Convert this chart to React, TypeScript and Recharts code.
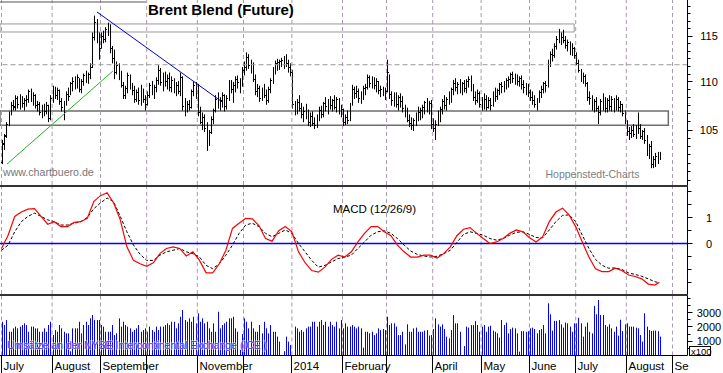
import React from "react";
import {
  ComposedChart,
  Bar,
  Line,
  Scatter,
  XAxis,
  YAxis,
  ReferenceLine,
  ReferenceArea,
} from "recharts";

// weekday slots, 0 = 1 July 2013
const monthStarts = [0, 23, 45, 66, 89, 110, 132, 155, 175, 196, 218, 240, 261, 284, 305];
const monthLabels = ["July", "August", "September", "", "November", "", "2014", "February", "", "April", "May", "June", "July", "August", "Se"];

const opens = [
  // Jul 2013
  101.8, 103.5, 104.4, 105.6, 106.7, 107.5, 107.3, 108.3, 107.6, 108.4, 107.7, 108.0, 108.2, 109.0, 108.2, 108.6, 107.5, 107.6, 106.8, 107.3, 106.9, 107.5, 106.2,
  // Aug
  108.3, 109.2, 108.6, 109.1, 107.9, 107.3, 107.8, 108.7, 108.5, 109.8, 110.1, 109.6, 110.5, 109.2, 110.0, 110.7, 110.4, 110.8, 111.6, 114.8, 116.5, 115.0,
  // Sep
  113.6, 115.0, 114.6, 115.7, 115.6, 113.6, 112.5, 111.0, 111.8, 110.5, 109.6, 108.6, 109.3, 110.7, 109.4, 109.1, 108.2, 108.9, 108.0, 109.4, 108.2,
  // Oct
  107.6, 108.6, 109.6, 108.9, 109.4, 110.2, 111.2, 109.9, 110.6, 110.0, 110.4, 109.4, 110.2, 109.0, 109.6, 109.0, 110.5, 107.4, 106.8, 107.6, 107.3, 109.0, 109.6,
  // Nov
  108.8, 106.8, 105.8, 106.3, 105.2, 103.6, 104.7, 106.1, 107.0, 108.2, 107.6, 108.0, 108.6, 107.4, 108.3, 109.9, 109.2, 109.6, 110.3, 109.9, 110.0,
  // Dec
  111.2, 111.6, 112.6, 111.8, 112.0, 110.3, 109.0, 109.3, 108.3, 108.9, 108.6, 108.0, 109.2, 110.2, 111.4, 112.0, 112.1, 112.2, 112.3, 112.5, 112.0, 111.6,
  // Jan 2014
  111.0, 107.6, 106.9, 107.8, 107.2, 106.6, 106.9, 106.4, 105.8, 106.4, 105.7, 105.5, 106.3, 107.0, 106.6, 107.7, 107.4, 107.9, 107.5, 108.0, 107.3, 108.1, 106.9,
  // Feb
  107.1, 105.8, 106.3, 106.0, 107.6, 109.2, 108.8, 109.0, 108.3, 108.6, 109.3, 109.4, 110.5, 109.8, 110.4, 109.6, 110.0, 109.1, 109.2, 108.8,
  // Mar
  109.0, 111.0, 108.7, 108.0, 108.6, 107.6, 108.4, 107.9, 107.2, 106.6, 106.0, 105.7, 105.5, 106.0, 106.5, 106.8, 107.0, 107.3, 107.8, 107.2, 107.7,
  // Apr
  105.6, 105.2, 105.6, 106.4, 107.1, 107.9, 107.5, 108.2, 107.9, 109.2, 109.8, 109.4, 109.7, 109.2, 109.8, 109.3, 110.0, 110.3, 109.3, 108.4, 108.0, 108.8,
  // May
  107.6, 107.6, 108.2, 107.3, 108.0, 107.5, 108.7, 108.5, 109.1, 109.7, 109.5, 109.9, 110.2, 110.3, 110.8, 110.4, 110.6, 110.1, 110.4, 109.7, 109.4, 109.6,
  // Jun
  108.9, 108.4, 108.0, 107.6, 108.1, 108.9, 109.2, 109.8, 109.6, 112.0, 113.0, 112.8, 113.8, 114.6, 115.1, 114.8, 114.5, 113.9, 114.3, 113.4, 113.6,
  // Jul
  112.9, 112.0, 111.2, 110.4, 110.6, 109.8, 108.4, 108.3, 107.3, 107.9, 107.2, 106.8, 107.9, 108.4, 107.2, 108.0, 107.4, 108.2, 107.5, 108.1, 107.3, 107.6, 106.7,
  // Aug
  106.0, 104.8, 104.6, 105.0, 104.5, 105.2, 105.2, 104.3, 104.8, 103.9, 102.8, 103.3, 101.6, 102.0, 102.3, 102.5,
];

const highs = [
  104.0, 104.6, 105.8, 106.9, 107.9, 108.1, 108.6, 108.5, 108.7, 108.5, 108.3, 108.6, 109.2, 109.3, 108.9, 108.7, 108.0, 107.9, 107.6, 107.7, 107.9, 107.6, 108.6,
  109.6, 109.5, 109.4, 109.2, 108.3, 108.0, 109.0, 109.4, 110.0, 110.5, 110.6, 110.8, 110.4, 110.3, 110.9, 111.2, 111.0, 112.0, 115.4, 117.3, 116.9, 115.4,
  115.4, 115.6, 116.0, 116.5, 116.3, 113.9, 113.5, 112.2, 112.0, 111.2, 110.0, 109.6, 111.0, 110.8, 109.9, 109.6, 109.2, 109.4, 109.7, 109.3, 108.6,
  109.0, 109.9, 110.1, 109.7, 110.5, 111.8, 111.5, 111.0, 111.1, 110.8, 111.0, 110.6, 110.4, 110.0, 110.1, 111.0, 110.6, 108.3, 108.0, 108.1, 109.2, 110.1, 110.0,
  109.8, 107.4, 106.8, 106.6, 105.8, 105.0, 106.4, 107.2, 108.6, 108.9, 108.4, 108.9, 108.7, 108.6, 110.2, 110.2, 110.0, 110.6, 110.7, 110.4, 111.6,
  112.2, 113.2, 113.0, 112.4, 112.1, 110.8, 109.8, 109.6, 109.4, 109.8, 109.2, 109.5, 110.4, 111.6, 112.3, 112.5, 112.4, 112.6, 112.8, 113.0, 112.4, 112.0,
  111.3, 108.0, 108.2, 108.6, 107.8, 107.4, 107.7, 107.1, 106.8, 106.9, 106.3, 106.6, 107.4, 107.5, 107.9, 108.4, 108.2, 108.5, 108.2, 108.6, 108.4, 108.3, 107.6,
  107.2, 106.6, 107.0, 107.8, 109.7, 109.5, 109.6, 109.3, 109.0, 109.6, 109.8, 110.8, 110.7, 110.6, 110.5, 110.4, 110.1, 109.6, 109.5, 109.4,
  112.4, 110.8, 109.0, 108.9, 108.9, 108.6, 108.8, 108.5, 107.6, 107.3, 106.6, 106.3, 106.2, 106.8, 107.4, 107.3, 107.6, 108.0, 108.3, 108.0, 108.1,
  106.2, 106.0, 107.0, 107.4, 108.2, 108.6, 108.4, 109.0, 109.4, 110.2, 110.4, 110.0, 110.3, 110.0, 110.2, 110.3, 110.6, 110.7, 109.8, 109.0, 109.2, 109.0,
  108.4, 108.8, 108.6, 108.4, 108.3, 109.0, 109.4, 109.3, 109.9, 110.0, 110.1, 110.4, 110.6, 111.0, 111.1, 110.9, 110.8, 110.6, 110.7, 110.2, 109.9, 109.8,
  109.2, 109.0, 108.6, 108.3, 109.1, 109.6, 110.0, 110.1, 112.4, 113.3, 113.6, 114.2, 115.0, 115.8, 115.4, 115.7, 115.0, 114.6, 114.4, 114.2, 113.8,
  113.2, 112.4, 111.4, 111.0, 110.8, 110.0, 109.0, 108.6, 108.2, 108.4, 107.5, 108.2, 108.8, 108.4, 108.3, 108.6, 108.5, 108.3, 108.6, 108.4, 108.0, 107.7, 107.0,
  106.0, 105.3, 105.4, 105.6, 105.5, 106.8, 105.6, 105.0, 105.2, 104.5, 103.6, 103.9, 102.4, 102.7, 102.8, 102.8,
];

const lows = [
  101.6, 103.0, 104.2, 105.4, 106.5, 107.0, 107.0, 107.2, 107.1, 107.3, 107.0, 107.4, 107.8, 107.9, 107.5, 107.2, 106.9, 106.5, 106.2, 106.4, 106.6, 105.8, 106.0,
  107.8, 108.2, 108.1, 107.6, 106.9, 106.0, 107.5, 108.0, 108.6, 109.0, 109.2, 109.3, 108.9, 108.8, 109.6, 109.9, 109.8, 110.3, 111.5, 114.5, 114.2, 112.4,
  113.6, 114.2, 114.3, 115.0, 113.1, 112.0, 110.3, 110.8, 110.2, 109.4, 108.2, 108.2, 108.8, 109.2, 108.6, 107.8, 107.9, 107.6, 107.5, 107.8, 107.0,
  107.5, 108.3, 108.6, 108.2, 108.9, 109.7, 109.6, 109.0, 109.5, 109.2, 109.0, 108.9, 108.8, 108.5, 108.7, 108.5, 107.0, 106.4, 106.8, 107.0, 107.2, 108.5, 108.2,
  106.4, 105.6, 105.0, 104.8, 102.9, 103.4, 104.6, 105.6, 106.8, 107.2, 107.0, 107.3, 106.9, 107.1, 108.0, 108.8, 107.8, 108.9, 109.3, 108.8, 109.5,
  110.7, 111.2, 111.4, 110.9, 110.0, 108.6, 108.4, 107.9, 108.0, 108.3, 107.6, 107.8, 108.8, 109.8, 110.8, 111.2, 111.3, 111.6, 111.4, 111.6, 111.0, 110.6,
  107.2, 106.5, 106.6, 106.9, 106.2, 105.8, 106.1, 105.4, 105.3, 105.4, 105.1, 105.2, 105.9, 106.2, 106.3, 106.9, 106.6, 107.1, 106.9, 107.1, 106.8, 106.6, 106.3,
  105.4, 105.5, 105.6, 105.9, 107.5, 108.2, 108.3, 107.8, 107.7, 108.1, 108.6, 109.2, 109.4, 109.3, 109.2, 108.9, 108.7, 108.4, 108.5, 108.1,
  108.9, 108.2, 107.5, 107.4, 107.3, 107.0, 107.3, 106.8, 106.3, 105.8, 105.3, 105.0, 104.9, 105.4, 105.9, 106.0, 106.2, 106.6, 106.8, 106.6, 105.1,
  104.8, 104.0, 105.4, 105.8, 106.6, 107.1, 107.0, 107.6, 107.8, 108.6, 109.0, 108.7, 108.8, 108.6, 108.9, 108.8, 109.4, 109.0, 108.0, 107.6, 107.8, 107.3,
  107.0, 107.1, 107.0, 107.2, 107.0, 107.4, 107.9, 108.1, 108.6, 108.8, 108.9, 109.2, 109.4, 109.8, 109.9, 109.7, 109.6, 109.5, 109.2, 108.8, 108.6, 108.4,
  108.0, 107.6, 107.3, 107.0, 107.8, 108.3, 108.8, 108.9, 109.4, 111.6, 112.2, 112.6, 113.5, 114.2, 114.0, 114.2, 113.6, 113.3, 112.9, 112.8, 112.5,
  111.8, 111.0, 110.0, 109.8, 109.5, 108.0, 107.6, 107.0, 106.8, 106.9, 105.6, 106.5, 107.0, 106.8, 106.8, 107.0, 106.9, 106.8, 107.0, 106.9, 106.8, 106.4, 105.6,
  104.4, 104.0, 104.2, 104.3, 104.1, 104.6, 104.1, 104.0, 103.6, 102.4, 102.1, 101.2, 101.2, 101.3, 101.6, 102.0,
];

const closes = [
  103.6, 104.3, 105.6, 106.6, 107.6, 107.4, 108.3, 107.6, 108.4, 107.7, 108.0, 108.2, 109.0, 108.2, 108.6, 107.5, 107.6, 106.8, 107.3, 106.9, 107.5, 106.2, 108.3,
  109.2, 108.6, 109.1, 107.9, 107.3, 107.8, 108.7, 108.5, 109.8, 110.1, 109.6, 110.5, 109.2, 110.0, 110.7, 110.4, 110.8, 111.6, 114.8, 116.5, 115.0, 113.3,
  115.0, 114.6, 115.7, 115.6, 113.6, 112.5, 111.0, 111.8, 110.5, 109.6, 108.6, 109.3, 110.7, 109.4, 109.1, 108.2, 108.9, 108.0, 109.4, 108.2, 107.6,
  108.6, 109.6, 108.9, 109.4, 110.2, 111.2, 109.9, 110.6, 110.0, 110.4, 109.4, 110.2, 109.0, 109.6, 109.0, 110.5, 107.4, 106.8, 107.6, 107.3, 109.0, 109.6, 108.8,
  106.8, 105.8, 106.3, 105.2, 103.6, 104.7, 106.1, 107.0, 108.2, 107.6, 108.0, 108.6, 107.4, 108.3, 109.9, 109.2, 109.6, 110.3, 109.9, 110.0, 111.2,
  111.6, 112.6, 111.8, 112.0, 110.3, 109.0, 109.3, 108.3, 108.9, 108.6, 108.0, 109.2, 110.2, 111.4, 112.0, 112.1, 112.2, 112.3, 112.5, 112.0, 111.6, 111.0,
  107.6, 106.9, 107.8, 107.2, 106.6, 106.9, 106.4, 105.8, 106.4, 105.7, 105.5, 106.3, 107.0, 106.6, 107.7, 107.4, 107.9, 107.5, 108.0, 107.3, 108.1, 106.9, 107.1,
  105.8, 106.3, 106.0, 107.6, 109.2, 108.8, 109.0, 108.3, 108.6, 109.3, 109.4, 110.5, 109.8, 110.4, 109.6, 110.0, 109.1, 109.2, 108.8, 109.0,
  111.0, 108.7, 108.0, 108.6, 107.6, 108.4, 107.9, 107.2, 106.6, 106.0, 105.7, 105.5, 106.0, 106.5, 106.8, 107.0, 107.3, 107.8, 107.2, 107.7, 105.6,
  105.2, 105.6, 106.4, 107.1, 107.9, 107.5, 108.2, 107.9, 109.2, 109.8, 109.4, 109.7, 109.2, 109.8, 109.3, 110.0, 110.3, 109.3, 108.4, 108.0, 108.8, 107.6,
  107.6, 108.2, 107.3, 108.0, 107.5, 108.7, 108.5, 109.1, 109.7, 109.5, 109.9, 110.2, 110.3, 110.8, 110.4, 110.6, 110.1, 110.4, 109.7, 109.4, 109.6, 108.9,
  108.4, 108.0, 107.6, 108.1, 108.9, 109.2, 109.8, 109.6, 112.0, 113.0, 112.8, 113.8, 114.6, 115.1, 114.8, 114.5, 113.9, 114.3, 113.4, 113.6, 112.9,
  112.0, 111.2, 110.4, 110.6, 109.8, 108.4, 108.3, 107.3, 107.9, 107.2, 106.8, 107.9, 108.4, 107.2, 108.0, 107.4, 108.2, 107.5, 108.1, 107.3, 107.6, 106.7, 106.0,
  104.8, 104.6, 105.0, 104.5, 105.2, 105.2, 104.3, 104.8, 103.9, 102.8, 103.3, 101.6, 102.0, 102.3, 102.5, 102.6,
];

// volume, in hundreds of contracts
const volumes = [
  2360, 2130, 2480, 1660, 1660, 1900, 2020, 1900, 2020, 2130, 2250, 2130, 1660, 2020, 2020, 1900, 1900, 1660, 1660, 1900, 1660, 2130, 2360,
  1430, 1780, 1660, 2130, 1900, 1660, 1550, 1550, 300, 1900, 1900, 1900, 2360, 1550, 2130, 2360, 2130, 2600, 2830, 2480, 2480, 2480,
  2130, 2020, 1660, 1660, 1660, 2130, 1430, 1550, 2600, 2020, 2360, 2130, 2020, 1900, 1660, 1780, 1900, 2130, 1660, 1780, 1900,
  1660, 2020, 1780, 1660, 2020, 1780, 2020, 2020, 2130, 2250, 2130, 2360, 2360, 1900, 2250, 2710, 3180, 2480, 2360, 2600, 2360, 2710, 2250,
  2950, 2360, 2600, 2250, 2360, 1900, 1660, 2250, 1660, 3060, 1900, 2130, 2250, 2360, 2600, 2600, 2710, 1900, 1660, 400, 1500,
  2600, 2360, 1900, 2360, 1900, 1660, 1660, 2130, 1550, 2360, 1900, 1550, 2130, 1660, 1660, 1320, 970, 0, 300, 1320, 970, 730,
  0, 2020, 1900, 1660, 1780, 1660, 1900, 2020, 2020, 2360, 2360, 2020, 2360, 2480, 2130, 2360, 2020, 2360, 2130, 2020, 2360, 1900, 2480,
  1900, 2250, 2020, 2020, 2130, 2020, 1900, 2020, 1900, 550, 1660, 1660, 1550, 1660, 1430, 1550, 1900, 1780, 1850, 1780,
  2710, 2130, 2250, 2250, 2020, 1430, 1430, 1660, 780, 2180, 1660, 1660, 1900, 1950, 1660, 1660, 1660, 1740, 1780, 1390, 1430,
  1850, 2600, 2180, 2020, 2180, 1850, 1320, 1200, 1780, 2830, 2250, 2250, 1660, 0, 660, 2020, 1950, 2130, 2130, 2400, 2130, 1660,
  2020, 2130, 1660, 2020, 2080, 1740, 1660, 1550, 1250, 2480, 2130, 2300, 1550, 1850, 1950, 1900, 1550, 270, 1700, 1700, 1660, 1700,
  1900, 1950, 1850, 1550, 1780, 1850, 2130, 1550, 3650, 2880, 1740, 2420, 2420, 2480, 2180, 1950, 2300, 2250, 2020, 1660, 2250,
  2250, 2640, 2250, 1320, 2020, 2300, 1660, 1550, 3470, 2880, 3880, 2830, 2830, 2130, 2020, 2180, 1900, 1660, 2020, 1390, 2500, 1710, 2180,
  2250, 2020, 2020, 2020, 1950, 1900, 1430, 970, 2950, 2020, 1780, 1710, 1740, 1740, 1700, 1320,
];

// MACD (12/26/9), read every third weekday, last point = last bar
const macdValues = [
  -0.19, 0.32, 1.04, 1.21, 1.32, 1.34, 1.04, 0.74, 0.84, 0.65,
  0.65, 0.81, 0.84, 0.97, 1.62, 1.84, 1.95, 1.56, 0.91, -0.13,
  -0.65, -0.78, -0.88, -0.74, -0.39, -0.19, -0.13, -0.19, -0.48, -0.32,
  -0.65, -1.13, -1.13, -0.78, -0.26, 0.58, 0.78, 0.97, 0.95, 0.69,
  0.19, 0.09, 0.49, 0.65, 0.45, -0.32, -0.74, -1.04, -1.10, -0.91,
  -0.61, -0.45, -0.52, -0.32, 0.06, 0.39, 0.65, 0.65, 0.45, 0.3,
  -0.06, -0.32, -0.52, -0.52, -0.45, -0.45, -0.56, -0.39, -0.13, 0.3,
  0.55, 0.61, 0.39, 0.19, 0.0, 0.06, 0.19, 0.39, 0.52, 0.45,
  0.22, 0.06, 0.26, 0.84, 1.21, 1.36, 1.1, 0.65, 0.06, -0.52,
  -0.97, -1.08, -1.08, -0.95, -1.04, -1.21, -1.27, -1.36, -1.56, -1.6,
  -1.49,
];
const signalValues = [
  -0.26, -0.06, 0.45, 0.84, 1.04, 1.17, 1.04, 0.91, 0.84, 0.71,
  0.71, 0.78, 0.84, 1.0, 1.34, 1.56, 1.75, 1.6, 1.04, 0.45,
  -0.06, -0.42, -0.65, -0.65, -0.45, -0.32, -0.26, -0.19, -0.32, -0.39,
  -0.52, -0.84, -0.97, -0.78, -0.45, -0.06, 0.39, 0.71, 0.78, 0.65,
  0.39, 0.26, 0.39, 0.52, 0.39, 0.0, -0.32, -0.65, -0.91, -0.84,
  -0.71, -0.58, -0.52, -0.45, -0.19, 0.06, 0.32, 0.45, 0.49, 0.39,
  0.19, -0.06, -0.29, -0.42, -0.48, -0.52, -0.49, -0.39, -0.26, 0.04,
  0.35, 0.45, 0.39, 0.32, 0.19, 0.13, 0.19, 0.32, 0.43, 0.45,
  0.35, 0.23, 0.22, 0.52, 0.84, 1.08, 1.1, 0.84, 0.32, -0.19,
  -0.61, -0.84, -0.95, -0.94, -1.0, -1.13, -1.19, -1.26, -1.36, -1.47,
  -1.51,
];

const priceTicks = [100, 100.83, 101.67, 102.5, 103.33, 104.17, 105, 105.83, 106.67, 107.5, 108.33, 109.17, 110, 110.83, 111.67, 112.5, 113.33, 114.17, 115, 115.83, 116.67, 117.5, 118.33];
const priceLabels = [105, 110, 115];
const macdTicks = [-1.5, -1, -0.5, 0, 0.5, 1, 1.5, 2];
const macdLabels = [0, 1];
const volumeTicks = [500, 1000, 1500, 2000, 2500, 3000, 3500, 4000];
const volumeLabels = [1000, 2000, 3000];

const W = 723;
const AXIS_W = 35.5;
const X_DOMAIN = [-0.682, 311.818];
const FONT = "'Liberation Sans', Arial, sans-serif";
const GRID = "#a99aae";

const priceData = opens.map((o, i) => ({
  i,
  open: o,
  high: highs[i],
  low: lows[i],
  close: closes[i],
  range: [lows[i], highs[i]],
  vol: volumes[i],
}));

const macdData = macdValues.map((v, k) => ({
  i: Math.min(k * 3, 299),
  macd: v,
  signal: signalValues[k],
}));

const Stick = (props: any) => {
  const { x, y, width, height } = props;
  if (x == null || y == null) return null;
  const cx = Math.round(x + width / 2);
  return <rect x={cx} y={y} width={1} height={Math.max(height, 1)} fill="#000" />;
};

const OpenTick = (props: any) => {
  const { cx, cy } = props;
  if (cx == null || cy == null) return null;
  return <rect x={Math.round(cx) - 1} y={Math.round(cy - 0.5)} width={1} height={1} fill="#000" />;
};

const CloseTick = (props: any) => {
  const { cx, cy } = props;
  if (cx == null || cy == null) return null;
  return <rect x={Math.round(cx) + 1} y={Math.round(cy - 0.5)} width={1} height={1} fill="#000" />;
};

const VolBar = (props: any) => {
  const { x, y, width, height } = props;
  if (x == null || y == null || !height) return null;
  return <rect x={Math.round(x + width / 2)} y={y} width={1} height={height} fill="#0000ff" />;
};

function yTick(labels: number[], majorLen: number, minorLen: number) {
  return (props: any) => {
    const { x, y, payload } = props;
    const v = payload.value;
    const major = labels.some((l) => Math.abs(l - v) < 1e-6);
    const yy = Math.round(y - 0.5) + 0.5;
    return (
      <g>
        <line x1={x} x2={x + (major ? majorLen : minorLen)} y1={yy} y2={yy} stroke="#000" />
        {major && (
          <text x={x + 21.5} y={y + 4} textAnchor="middle" fontSize={11} fontFamily={FONT} fill="#000">
            {v}
          </text>
        )}
      </g>
    );
  };
}

const MonthTick = (props: any) => {
  const { x, y, payload } = props;
  const k = monthStarts.indexOf(payload.value);
  const xx = Math.round(x - 0.5) + 0.5;
  return (
    <g>
      <line x1={xx} x2={xx} y1={y} y2={y + 18} stroke="#000" />
      <text x={xx + 2} y={y + 14.5} fontSize={11.5} fontFamily={FONT} fill="#000">
        {monthLabels[k]}
      </text>
    </g>
  );
};

const monthGrid = monthStarts.map((m) => (
  <ReferenceLine key={"g" + m} x={m} stroke={GRID} strokeDasharray="4 3" />
));

export default function App() {
  return (
    <div style={{ position: "absolute", left: 0, top: 0, width: W, height: 373, background: "#fff", overflow: "hidden" }}>
      {/* price panel */}
      <div style={{ position: "absolute", left: 0, top: 0 }}>
        <ComposedChart width={W} height={185} data={priceData} margin={{ top: 0, right: 0, bottom: 0, left: 0 }}>
          <XAxis dataKey="i" type="number" domain={X_DOMAIN} allowDataOverflow hide />
          <YAxis
            orientation="right"
            width={AXIS_W}
            type="number"
            scale="log"
            domain={[99.56, 119.08]}
            allowDataOverflow
            ticks={priceTicks}
            interval={0}
            tickSize={0}
            tickMargin={0}
            tickLine={false}
            axisLine={{ stroke: "#000" }}
            tick={yTick(priceLabels, 5, 3)}
          />
          {monthGrid}
          <ReferenceLine y={111.85} stroke="#999" strokeDasharray="5 3" />
          <ReferenceLine segment={[{ x: -0.68, y: 118.85 }, { x: 65.7, y: 118.85 }]} stroke="#555" />
          <ReferenceArea x1={-0.68} x2={260.3} y1={115.45} y2={116.35} fill="none" stroke="#999" />
          <ReferenceArea x1={-0.68} x2={303.1} y1={105.48} y2={106.96} fill="none" stroke="#6e6e6e" strokeWidth={1.5} />
          <ReferenceLine segment={[{ x: 2.5, y: 101.6 }, { x: 50.7, y: 111.18 }]} stroke="#22b422" />
          <ReferenceLine segment={[{ x: 43.4, y: 117.71 }, { x: 100.5, y: 107.86 }]} stroke="#0000cc" />
          <Bar dataKey="range" barSize={1} shape={Stick} isAnimationActive={false} />
          <Scatter dataKey="open" shape={OpenTick} isAnimationActive={false} />
          <Scatter dataKey="close" shape={CloseTick} isAnimationActive={false} />
        </ComposedChart>
      </div>
      <div style={{ position: "absolute", left: 0, top: 185, width: 688, height: 2, background: "#333" }} />

      {/* MACD panel */}
      <div style={{ position: "absolute", left: 0, top: 187 }}>
        <ComposedChart width={W} height={107} data={macdData} margin={{ top: 0, right: 0, bottom: 0, left: 0 }}>
          <XAxis dataKey="i" type="number" domain={X_DOMAIN} allowDataOverflow hide />
          <YAxis
            orientation="right"
            width={AXIS_W}
            type="number"
            domain={[-1.942, 2.173]}
            allowDataOverflow
            ticks={macdTicks}
            interval={0}
            tickSize={0}
            tickMargin={0}
            tickLine={false}
            axisLine={{ stroke: "#000" }}
            tick={yTick(macdLabels, 5, 4)}
          />
          {monthGrid}
          <ReferenceLine y={0} stroke="#0000ff" strokeWidth={1.5} />
          <Line dataKey="signal" type="linear" stroke="#000" strokeWidth={1} strokeDasharray="3 2" dot={false} isAnimationActive={false} />
          <Line dataKey="macd" type="linear" stroke="#ff0000" strokeWidth={1.2} dot={false} isAnimationActive={false} />
        </ComposedChart>
      </div>
      <div style={{ position: "absolute", left: 0, top: 294, width: 688, height: 2, background: "#333" }} />

      {/* volume panel */}
      <div style={{ position: "absolute", left: 0, top: 296 }}>
        <ComposedChart width={W} height={77} data={priceData} margin={{ top: 0, right: 0, bottom: 0, left: 0 }}>
          <XAxis
            dataKey="i"
            type="number"
            domain={X_DOMAIN}
            allowDataOverflow
            height={17.5}
            ticks={monthStarts}
            interval={0}
            tickSize={0}
            tickMargin={0}
            tickLine={false}
            axisLine={{ stroke: "#000" }}
            tick={MonthTick}
          />
          <YAxis
            orientation="right"
            width={AXIS_W}
            type="number"
            domain={[0, 4161]}
            allowDataOverflow
            ticks={volumeTicks}
            interval={0}
            tickSize={0}
            tickMargin={0}
            tickLine={false}
            axisLine={{ stroke: "#000" }}
            tick={yTick(volumeLabels, 5, 3)}
          />
          {monthGrid}
          <Bar dataKey="vol" barSize={1} shape={VolBar} isAnimationActive={false} />
        </ComposedChart>
      </div>

      {/* texts */}
      <svg width={W} height={373} style={{ position: "absolute", left: 0, top: 0, pointerEvents: "none", zIndex: 5 }}>
        <text x={148} y={15} fontFamily={FONT} fontWeight="bold" fontSize={15} fill="#000">
          Brent Blend (Future)
        </text>
        <text x={3} y={176} fontFamily={FONT} fontSize={10.6} fill="#777">
          www.chartbuero.de
        </text>
        <text x={545.5} y={178} fontFamily={FONT} fontSize={10.5} fill="#808080">
          Hoppenstedt-Charts
        </text>
        <text x={333} y={213} fontFamily={FONT} fontSize={11.5} fill="#000">
          MACD (12/26/9)
        </text>
        <text
          x={7}
          y={349}
          fontFamily={FONT}
          fontSize={10.5}
          fill="#4a2cf0"
          stroke="#ffffff"
          strokeWidth={1.3}
          strokeOpacity={0.55}
          paintOrder="stroke"
        >
          Umsätze an der NYSE Intercontinental Exchange (ICE )
        </text>
        <rect x={689.5} y={346.5} width={21} height={9} fill="#fff" stroke="#000" />
        <text x={691} y={354.5} fontFamily={FONT} fontSize={9.5} fill="#000">
          x100
        </text>
      </svg>
    </div>
  );
}
